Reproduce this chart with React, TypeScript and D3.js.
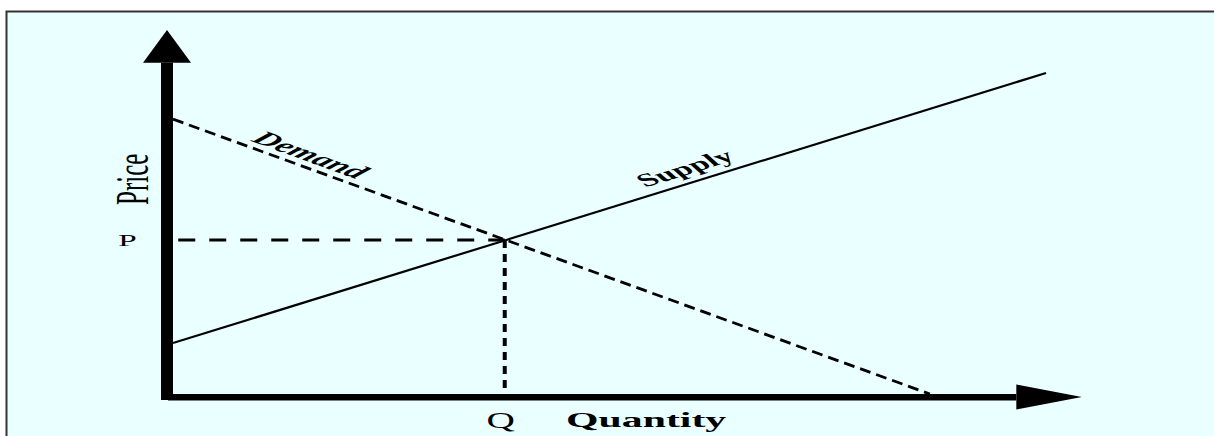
import React from 'react';
import * as d3 from 'd3';

// supply & demand curves (quantity 0..10, price 0..10)
const supplyQ = [0, 10];
const supplyP = [1.4, 8.82];
const demandQ = [0, 8.67];
const demandP = [7.55, 0];
const equilibriumQ = 3.8;
const equilibriumP = 4.23;

const axisLabels = ['Quantity', 'Price'];
const eqLabels = ['Q', 'P'];
const curveLabels = ['Demand', 'Supply'];

const W = 1214;
const H = 436;
const STRETCH = 1.9; // the source picture is stretched sideways
const SERIF = '"Liberation Serif", "Times New Roman", serif';

const x = d3.scaleLinear().domain([0, 10]).range([173, 1046]);
const y = d3.scaleLinear().domain([0, 10]).range([394, 30]);

const line = d3.line<[number, number]>()
  .x(d => x(d[0]))
  .y(d => y(d[1]));

const supplyPts: [number, number][] = supplyQ.map((q, i) => [q, supplyP[i]]);
const demandPts: [number, number][] = demandQ.map((q, i) => [q, demandP[i]]);

// angle of a segment once the sideways stretch is taken out
const angleOf = (pts: [number, number][]) => {
  const dx = (x(pts[1][0]) - x(pts[0][0])) / STRETCH;
  const dy = y(pts[1][1]) - y(pts[0][1]);
  return Math.atan2(dy, dx) * 180 / Math.PI;
};
const interp = (pts: [number, number][], q: number) =>
  pts[0][1] + (pts[1][1] - pts[0][1]) * (q - pts[0][0]) / (pts[1][0] - pts[0][0]);

export default function App() {
  const x0 = x(0);
  const y0 = y(0);
  const yTip = y(10);
  const yBase = y(9.1);
  const xBase = x(9.66);
  const xTip = x(10.41);

  const demandLabelQ = 1.43;
  const supplyLabelQ = 6.02;

  return (
    <div style={{ position: 'fixed', left: 0, top: 0 }}>
      <svg width={W} height={H} style={{ display: 'block' }}>
        <rect width={W} height={H} fill="#ffffff" />
        <rect x={7} y={12} width={W - 7} height={H - 12} fill="#eaffff" />
        <path d={`M6.5,${H} V11.5 H${W}`} fill="none" stroke="#333" strokeWidth={2} />

        {/* axes */}
        <rect x={x0 - 12} y={yBase} width={12} height={y0 + 6 - yBase} fill="#000" />
        <path d={`M${x0 - 6 - 24},${yBase} L${x0 - 6},${yTip} L${x0 - 6 + 24},${yBase} Z`} fill="#000" />
        <rect x={x0 - 5} y={y0} width={xBase - x0 + 5} height={6.5} fill="#000" />
        <path d={`M${xBase},${y0 + 3 - 12.5} L${xTip},${y0 + 3} L${xBase},${y0 + 3 + 12.5} Z`} fill="#000" />

        {/* guides to the equilibrium */}
        <line x1={x(0.06)} x2={x(equilibriumQ)} y1={y(equilibriumP)} y2={y(equilibriumP)}
          stroke="#000" strokeWidth={3} strokeDasharray="17 14" />
        <line x1={x(equilibriumQ)} x2={x(equilibriumQ)} y1={y(equilibriumP)} y2={y0}
          stroke="#000" strokeWidth={4} strokeDasharray="8 6" />

        {/* curves */}
        <path d={line(demandPts) || ''} fill="none" stroke="#000" strokeWidth={2.8} strokeDasharray="11 6" />
        <path d={line(supplyPts) || ''} fill="none" stroke="#000" strokeWidth={2.2} />

        {/* curve labels */}
        <text
          transform={`translate(${x(demandLabelQ)},${y(interp(demandPts, demandLabelQ))}) scale(${STRETCH},1) rotate(${angleOf(demandPts)})`}
          dy={-5.4} textAnchor="middle" fontFamily={SERIF} fontSize={19.5} fontWeight="bold" fontStyle="italic" fill="#000">
          {curveLabels[0]}
        </text>
        <text
          transform={`translate(${x(supplyLabelQ)},${y(interp(supplyPts, supplyLabelQ))}) scale(${STRETCH},1) rotate(${angleOf(supplyPts)})`}
          dy={-8} textAnchor="middle" fontFamily={SERIF} fontSize={18.5} fontWeight="bold" fill="#000">
          {curveLabels[1]}
        </text>

        {/* axis labels */}
        <text transform={`translate(${x0 - 25},${y(5.9)}) scale(${STRETCH},1) rotate(-90)`}
          textAnchor="middle" fontFamily={SERIF} fontSize={25} fill="#000">
          {axisLabels[1]}
        </text>
        <text transform={`translate(${x(5.42)},${y0 + 33}) scale(${STRETCH},1)`}
          textAnchor="middle" fontFamily={SERIF} fontSize={22} fontWeight="bold" fill="#000">
          {axisLabels[0]}
        </text>
        <text transform={`translate(${x0 - 45.5},${y(equilibriumP) + 5.5}) scale(${STRETCH},1)`}
          textAnchor="middle" fontFamily={SERIF} fontSize={17.5} fill="#000">
          {eqLabels[1]}
        </text>
        <text transform={`translate(${x(equilibriumQ) - 4},${y0 + 34}) scale(${STRETCH * 0.9},1)`}
          textAnchor="middle" fontFamily={SERIF} fontSize={23} fill="#000">
          {eqLabels[0]}
        </text>
      </svg>
    </div>
  );
}
